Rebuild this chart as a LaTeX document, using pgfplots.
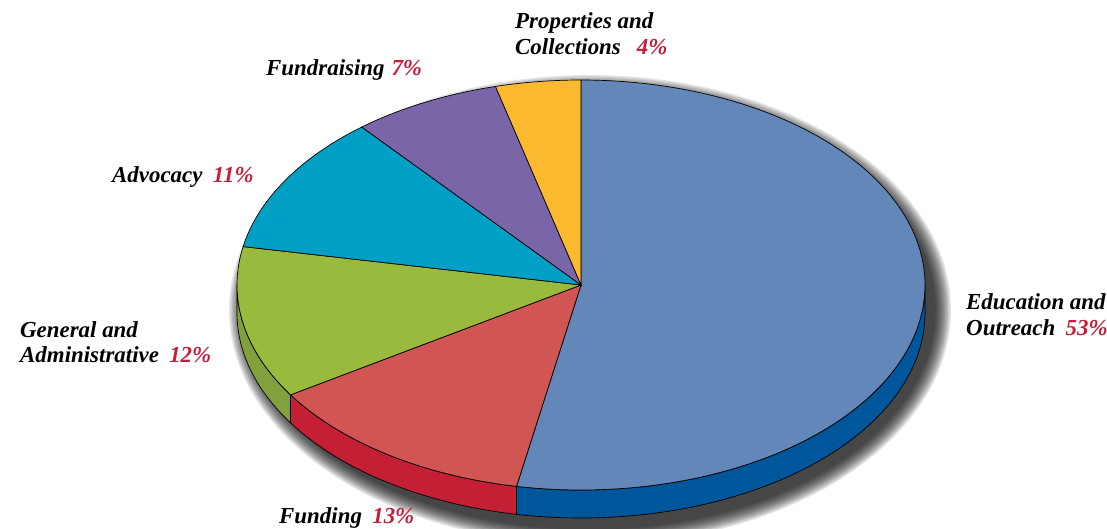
\documentclass[border=0pt]{standalone}
\usepackage{pgfplots}
\pgfplotsset{compat=1.18}
\usepackage{fontspec}
\setmainfont{Liberation Serif}
\definecolor{edu}{RGB}{98,135,184}
\definecolor{eduside}{RGB}{0,86,154}
\definecolor{fund}{RGB}{209,85,82}
\definecolor{fundside}{RGB}{196,31,52}
\definecolor{gen}{RGB}{153,186,60}
\definecolor{genside}{RGB}{130,160,60}
\definecolor{adv}{RGB}{0,160,198}
\definecolor{fraise}{RGB}{123,101,169}
\definecolor{prop}{RGB}{251,185,47}
\definecolor{numred}{RGB}{196,30,58}
% shares in percent
\def\pEdu{53}
\def\pFund{13}
\def\pGen{12}
\def\pAdv{11}
\def\pFra{7}
\def\pProp{4}
\pgfmathsetmacro\aA{90}
\pgfmathsetmacro\aB{\aA-3.6*\pEdu}
\pgfmathsetmacro\aC{\aB-3.6*\pFund}
\pgfmathsetmacro\aD{\aC-3.6*\pGen}
\pgfmathsetmacro\aE{\aD-3.6*\pAdv}
\pgfmathsetmacro\aF{\aE-3.6*\pFra}
\pgfmathsetmacro\aG{\aF-3.6*\pProp}
\newcommand\lbl{\fontsize{23}{27}\selectfont\bfseries\itshape}
\begin{document}
\begin{tikzpicture}
\begin{axis}[width=1107bp,height=529bp,scale only axis,hide axis,
  xmin=0,xmax=1107,ymin=0,ymax=529,y dir=reverse,clip=false]
% shadow
\pgfplotsinvokeforeach{0,...,11}{
  \fill[black,opacity=0.1] (axis cs:590,310) ellipse [x radius={(344+17-1.4*#1)*1bp}, y radius={(219+16-1.4*#1)*1bp}];
}
% side walls
\addplot[fill=eduside,draw=black,line width=0.7pt,domain=\aB:0,samples=80]
  ({581+344*cos(x)},{285-205*sin(x)}) -- plot[domain=0:\aB,samples=80] ({581+344*cos(\x)},{313-205*sin(\x)}) -- cycle;
\addplot[fill=fundside,draw=black,line width=0.7pt,domain=\aC:\aB,samples=40]
  ({581+344*cos(x)},{285-205*sin(x)}) -- plot[domain=\aB:\aC,samples=40] ({581+344*cos(\x)},{313-205*sin(\x)}) -- cycle;
\addplot[fill=genside,draw=black,line width=0.7pt,domain=-180:\aC,samples=40]
  ({581+344*cos(x)},{285-205*sin(x)}) -- plot[domain=\aC:-180,samples=40] ({581+344*cos(\x)},{313-205*sin(\x)}) -- cycle;
% top slices
\addplot[fill=edu,draw=black,line width=0.7pt,domain=\aB:\aA,samples=150]
  ({581+344*cos(x)},{285-205*sin(x)}) -- (axis cs:581,285) -- cycle;
\addplot[fill=fund,draw=black,line width=0.7pt,domain=\aC:\aB,samples=50]
  ({581+344*cos(x)},{285-205*sin(x)}) -- (axis cs:581,285) -- cycle;
\addplot[fill=gen,draw=black,line width=0.7pt,domain=\aD:\aC,samples=50]
  ({581+344*cos(x)},{285-205*sin(x)}) -- (axis cs:581,285) -- cycle;
\addplot[fill=adv,draw=black,line width=0.7pt,domain=\aE:\aD,samples=50]
  ({581+344*cos(x)},{285-205*sin(x)}) -- (axis cs:581,285) -- cycle;
\addplot[fill=fraise,draw=black,line width=0.7pt,domain=\aF:\aE,samples=40]
  ({581+344*cos(x)},{285-205*sin(x)}) -- (axis cs:581,285) -- cycle;
\addplot[fill=prop,draw=black,line width=0.7pt,domain=\aG:\aF,samples=30]
  ({581+344*cos(x)},{285-205*sin(x)}) -- (axis cs:581,285) -- cycle;
% labels
\begin{scope}[every node/.style={anchor=base west,inner sep=0pt,font=\lbl}]
\node at (axis cs:515,29) {Properties and};
\node at (axis cs:515,55) {Collections\hspace{0.7em}\textcolor{numred}{4\%}};
\node at (axis cs:266,76) {Fundraising\hspace{0.3em}\textcolor{numred}{7\%}};
\node at (axis cs:112,182) {Advocacy\hspace{0.45em}\textcolor{numred}{11\%}};
\node at (axis cs:20,337) {General and};
\node at (axis cs:20,362) {Administrative\hspace{0.45em}\textcolor{numred}{12\%}};
\node at (axis cs:966,309) {Education and};
\node at (axis cs:966,335) {Outreach\hspace{0.45em}\textcolor{numred}{53\%}};
\node at (axis cs:279,523) {Funding\hspace{0.45em}\textcolor{numred}{13\%}};
\end{scope}
\end{axis}
\pgfresetboundingbox
\path (current axis.south west) rectangle (current axis.north east);
\end{tikzpicture}
\end{document}
